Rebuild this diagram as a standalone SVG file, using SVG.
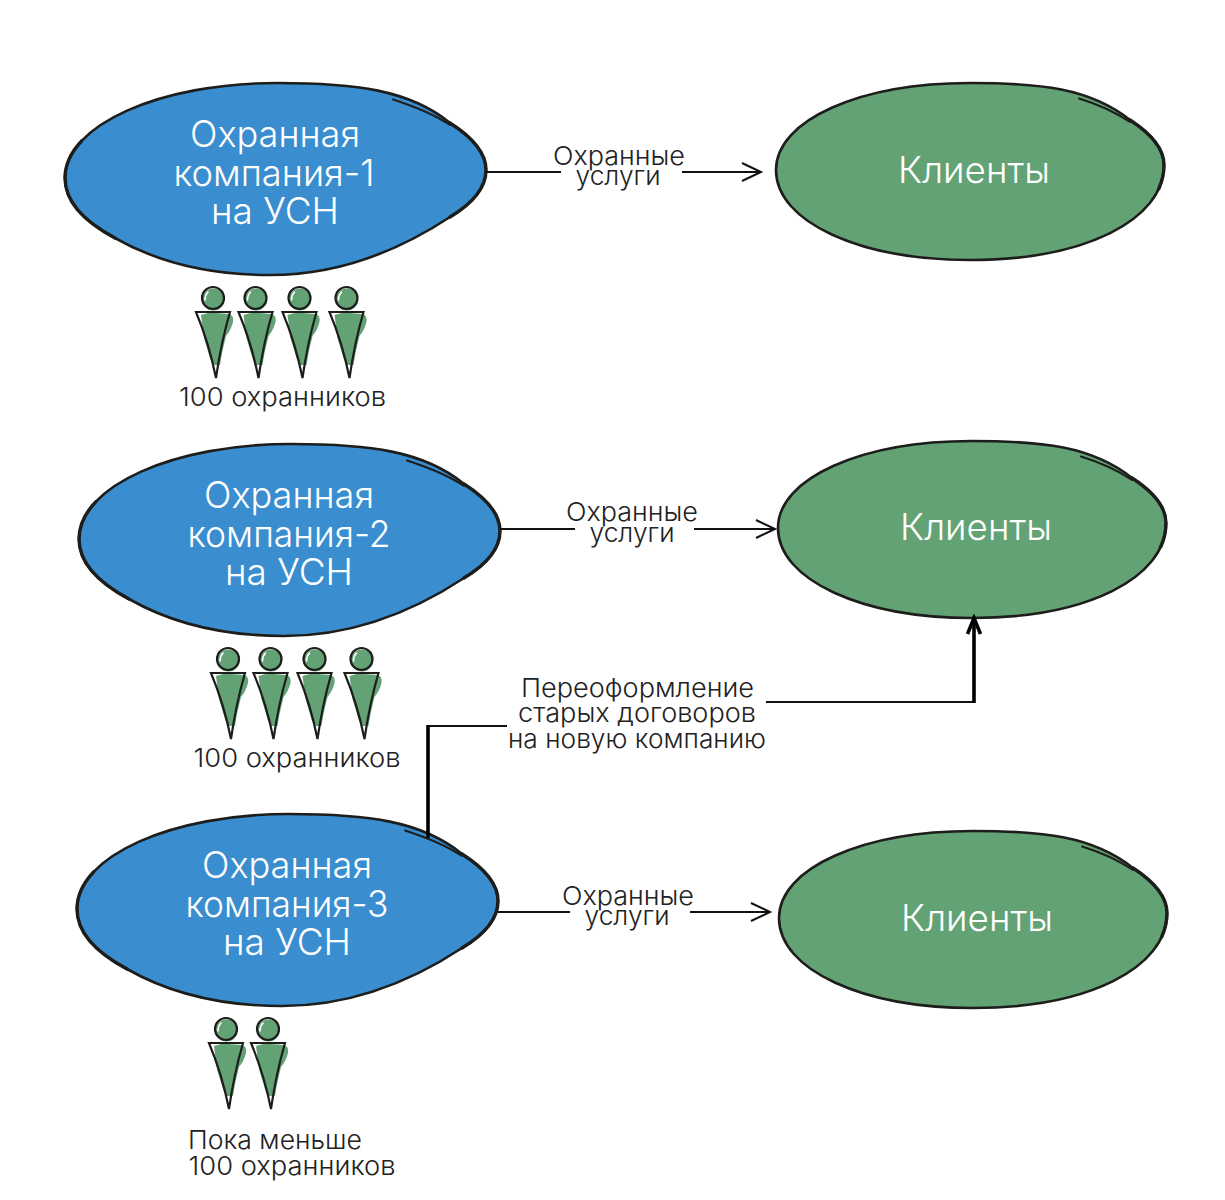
<svg xmlns="http://www.w3.org/2000/svg" width="1225" height="1200" viewBox="0 0 1225 1200">
  <style>
    text { font-family: "Inter", "Liberation Sans", sans-serif; font-weight: 300; text-anchor: middle; }
    .title { font-size: 37px; fill: #ffffff; }
    .note { font-size: 26px; fill: #222222; }
    .outline { stroke: #1d1d1b; stroke-width: 2.6; stroke-linejoin: round; }
    .heavy { fill: none; stroke: #1d1d1b; stroke-width: 3.4; stroke-linecap: round; }
    .accent { fill: none; stroke: #1d1d1b; stroke-width: 2; stroke-linecap: round; }
    .blue { fill: #3a8ecf; }
    .green { fill: #62a274; }
    .thin { fill: none; stroke: #111111; stroke-width: 2; }
    .thick { fill: none; stroke: #000000; stroke-width: 3.6; }
    .figure-fill { fill: #62a274; }
    .figure-gleam { fill: none; stroke: #ffffff; stroke-width: 1.6; stroke-linecap: round; }
    .figure-line { fill: none; stroke: #1d1d1b; stroke-width: 2.2; stroke-linejoin: miter; }
  </style>
  <defs>
    <marker id="open-arrow" markerUnits="userSpaceOnUse" markerWidth="24" markerHeight="24" refX="21" refY="12" orient="auto">
      <path d="M2 3 L21 12 L2 21" fill="none" stroke="#111111" stroke-width="2"/>
    </marker>
    <marker id="bold-arrow" markerUnits="userSpaceOnUse" markerWidth="24" markerHeight="24" refX="20" refY="12" orient="auto">
      <path d="M4 5.5 L20 12 L4 18.5" fill="none" stroke="#000000" stroke-width="3.6"/>
    </marker>
    <g id="company-shape">
      <path class="outline" d="M65 178 C65 125 160 83 277 83 C355 83 410 90 450 123 C472 137 486 152 486 170 C486 190 470 205 450 217 C400 250 340 275 270 275 C200 275 150 258 115 238 C85 222 65 203 65 178 Z"/>
      <path class="heavy" d="M115 238 C85 222 65 203 65 178 C65 164.75 70.9 152.2 81.7 140.8"/>
      <path class="heavy" d="M450 123 C472 137 486 152 486 170 C486 190 470 205 450 217"/>
      <path class="accent" d="M393 99.5 C410 105 432 113 450 125"/>
    </g>
    <g id="client-shape">
      <path class="outline" d="M776 170 C776 120 860 83 970 83 C1040 83 1090 88 1130 120 C1150 133 1164 148 1164 165 C1164 220 1085 260 970 260 C860 260 776 222 776 170 Z"/>
      <path class="heavy" d="M1130 120 C1150 133 1164 148 1164 165 C1164 173.25 1162.2 181.2 1158.8 188.7"/>
      <path class="accent" d="M1079 98.5 C1097 104 1115 112 1130 122"/>
    </g>
    <g id="guard">
      <circle class="figure-fill" cx="0.5" cy="1.5" r="11"/>
      <path class="figure-gleam" d="M-8 2 C-8 -2 -7 -4 -5 -6"/>
      <path class="figure-fill" d="M-12 17 L-3 14.5 L16 16 Q21 17 20 24 Q18 32 13 38 L9 55 L7 67 L0 67 L-3 60 L-9 40 Z"/>
      <circle class="figure-line" cx="0" cy="0" r="11"/>
      <path class="figure-line" d="M-17 14 H17 Q8 45 3 80 Q-4 45 -17 14 Z"/>
    </g>
  </defs>

  <rect width="1225" height="1200" fill="#ffffff"/>

  <g id="company-1">
    <use href="#company-shape" class="blue"/>
    <text class="title" x="275" y="147" textLength="170" lengthAdjust="spacingAndGlyphs">Охранная</text>
    <text class="title" x="274" y="186" textLength="201" lengthAdjust="spacingAndGlyphs">компания-1</text>
    <text class="title" x="275" y="224" textLength="128" lengthAdjust="spacingAndGlyphs">на УСН</text>
  </g>
  <g id="company-2">
    <use href="#company-shape" class="blue" x="14" y="361"/>
    <text class="title" x="289" y="508" textLength="170" lengthAdjust="spacingAndGlyphs">Охранная</text>
    <text class="title" x="289" y="547" textLength="203" lengthAdjust="spacingAndGlyphs">компания-2</text>
    <text class="title" x="289" y="585" textLength="128" lengthAdjust="spacingAndGlyphs">на УСН</text>
  </g>
  <g id="company-3">
    <use href="#company-shape" class="blue" x="12" y="731"/>
    <text class="title" x="287" y="878" textLength="170" lengthAdjust="spacingAndGlyphs">Охранная</text>
    <text class="title" x="287" y="917" textLength="203" lengthAdjust="spacingAndGlyphs">компания-3</text>
    <text class="title" x="287" y="955" textLength="128" lengthAdjust="spacingAndGlyphs">на УСН</text>
  </g>

  <g id="clients-1">
    <use href="#client-shape" class="green"/>
    <text class="title" x="974" y="183" textLength="152" lengthAdjust="spacingAndGlyphs">Клиенты</text>
  </g>
  <g id="clients-2">
    <use href="#client-shape" class="green" x="2" y="358"/>
    <text class="title" x="976" y="540" textLength="152" lengthAdjust="spacingAndGlyphs">Клиенты</text>
  </g>
  <g id="clients-3">
    <use href="#client-shape" class="green" x="3" y="748"/>
    <text class="title" x="977" y="931" textLength="152" lengthAdjust="spacingAndGlyphs">Клиенты</text>
  </g>

  <g id="connectors">
    <path class="thin" d="M486 172 H561"/>
    <path class="thin" d="M682 172 H761" marker-end="url(#open-arrow)"/>
    <path class="thin" d="M500 529 H575"/>
    <path class="thin" d="M694 529 H775" marker-end="url(#open-arrow)"/>
    <path class="thin" d="M498 912 H570"/>
    <path class="thin" d="M690 912 H770" marker-end="url(#open-arrow)"/>
    <path class="thin" d="M428 726 H507"/>
    <path class="thick" d="M428 838 V725"/>
    <path class="thin" d="M766 702 H974"/>
    <path class="thick" d="M974 703 V618" marker-end="url(#bold-arrow)"/>
  </g>

  <g id="staff-1">
    <use href="#guard" x="213" y="298"/>
    <use href="#guard" x="255.5" y="298"/>
    <use href="#guard" x="299.5" y="298"/>
    <use href="#guard" x="346.5" y="298"/>
    <text class="note" x="282.5" y="406" textLength="207" lengthAdjust="spacingAndGlyphs">100 охранников</text>
  </g>
  <g id="staff-2">
    <use href="#guard" x="228" y="659"/>
    <use href="#guard" x="270.5" y="659"/>
    <use href="#guard" x="314.5" y="659"/>
    <use href="#guard" x="361.5" y="659"/>
    <text class="note" x="297" y="767" textLength="207" lengthAdjust="spacingAndGlyphs">100 охранников</text>
  </g>
  <g id="staff-3">
    <use href="#guard" x="226" y="1029"/>
    <use href="#guard" x="268" y="1029"/>
    <text class="note" x="275" y="1149" textLength="174" lengthAdjust="spacingAndGlyphs">Пока меньше</text>
    <text class="note" x="292" y="1175" textLength="207" lengthAdjust="spacingAndGlyphs">100 охранников</text>
  </g>

  <g id="connector-labels">
    <text class="note" x="619" y="165" textLength="132" lengthAdjust="spacingAndGlyphs">Охранные</text>
    <text class="note" x="618" y="185" textLength="85" lengthAdjust="spacingAndGlyphs">услуги</text>
    <text class="note" x="632" y="521" textLength="132" lengthAdjust="spacingAndGlyphs">Охранные</text>
    <text class="note" x="632" y="542" textLength="85" lengthAdjust="spacingAndGlyphs">услуги</text>
    <text class="note" x="628" y="905" textLength="132" lengthAdjust="spacingAndGlyphs">Охранные</text>
    <text class="note" x="627" y="925" textLength="85" lengthAdjust="spacingAndGlyphs">услуги</text>
    <text class="note" x="637.5" y="697" textLength="233" lengthAdjust="spacingAndGlyphs">Переоформление</text>
    <text class="note" x="637" y="722" textLength="238" lengthAdjust="spacingAndGlyphs">старых договоров</text>
    <text class="note" x="637" y="748" textLength="258" lengthAdjust="spacingAndGlyphs">на новую компанию</text>
  </g>
</svg>
